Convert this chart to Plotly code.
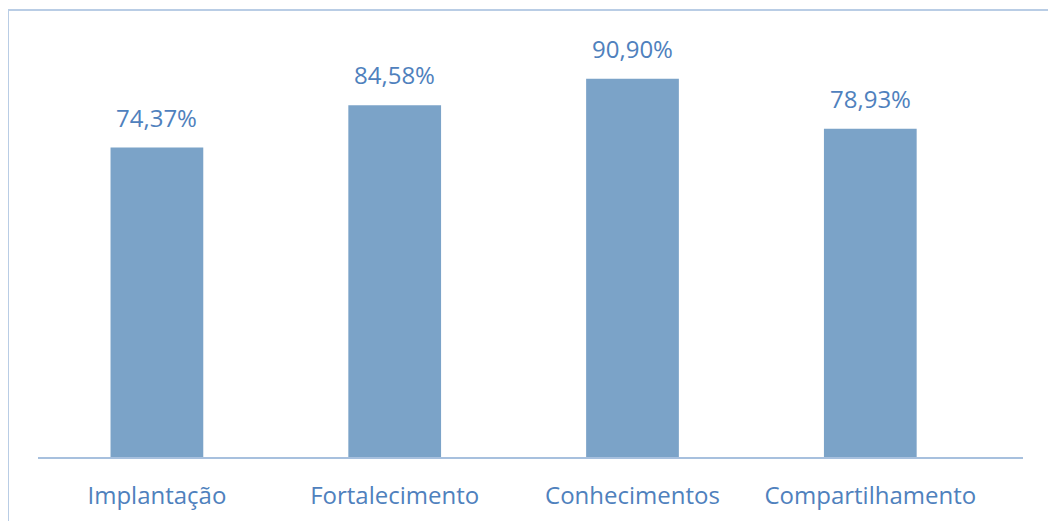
import plotly.graph_objects as go

categories = ["Implantação", "Fortalecimento", "Conhecimentos", "Compartilhamento"]
values = [74.37, 84.58, 90.90, 78.93]
value_labels = ["74,37%", "84,58%", "90,90%", "78,93%"]

W, H = 1056, 521
off = 8  # page body margin
left, right = 38 - off, 1023 - off
top, bottom = 41 - off, 457 - off

fig = go.Figure()
fig.add_trace(go.Bar(
    x=categories, y=values, width=0.39,
    marker=dict(color="#7BA3C8", line=dict(width=0)),
    hoverinfo="skip",
))

for c, v, t in zip(categories, values, value_labels):
    fig.add_annotation(x=c, y=v, text=t, showarrow=False, yanchor="bottom",
                       yshift=12, font=dict(family="Open Sans", size=24, color="#4F81BD"))

# outer chart border (partially visible)
fig.add_shape(type="rect", xref="paper", yref="paper",
              x0=(8 - off - left) / (right - left), x1=1.2,
              y0=-0.3, y1=(bottom - (10 - off)) / (bottom - top),
              line=dict(color="#B9CDE5", width=2), layer="below")

fig.update_layout(
    width=W, height=H,
    margin=dict(l=left, r=W - right, t=top, b=H - bottom, pad=0),
    plot_bgcolor="white", paper_bgcolor="white",
    showlegend=False,
    xaxis=dict(type="category", range=[-0.5, -0.5 + (right - left) / 237.8],
               showline=True, linecolor="#A7C0DE", linewidth=2,
               ticks="", showgrid=False, ticklabelstandoff=16,
               tickfont=dict(family="Open Sans", size=24, color="#4F81BD")),
    yaxis=dict(range=[0, 100], visible=False, showgrid=False, zeroline=False),
)

fig.write_html("out.html")
